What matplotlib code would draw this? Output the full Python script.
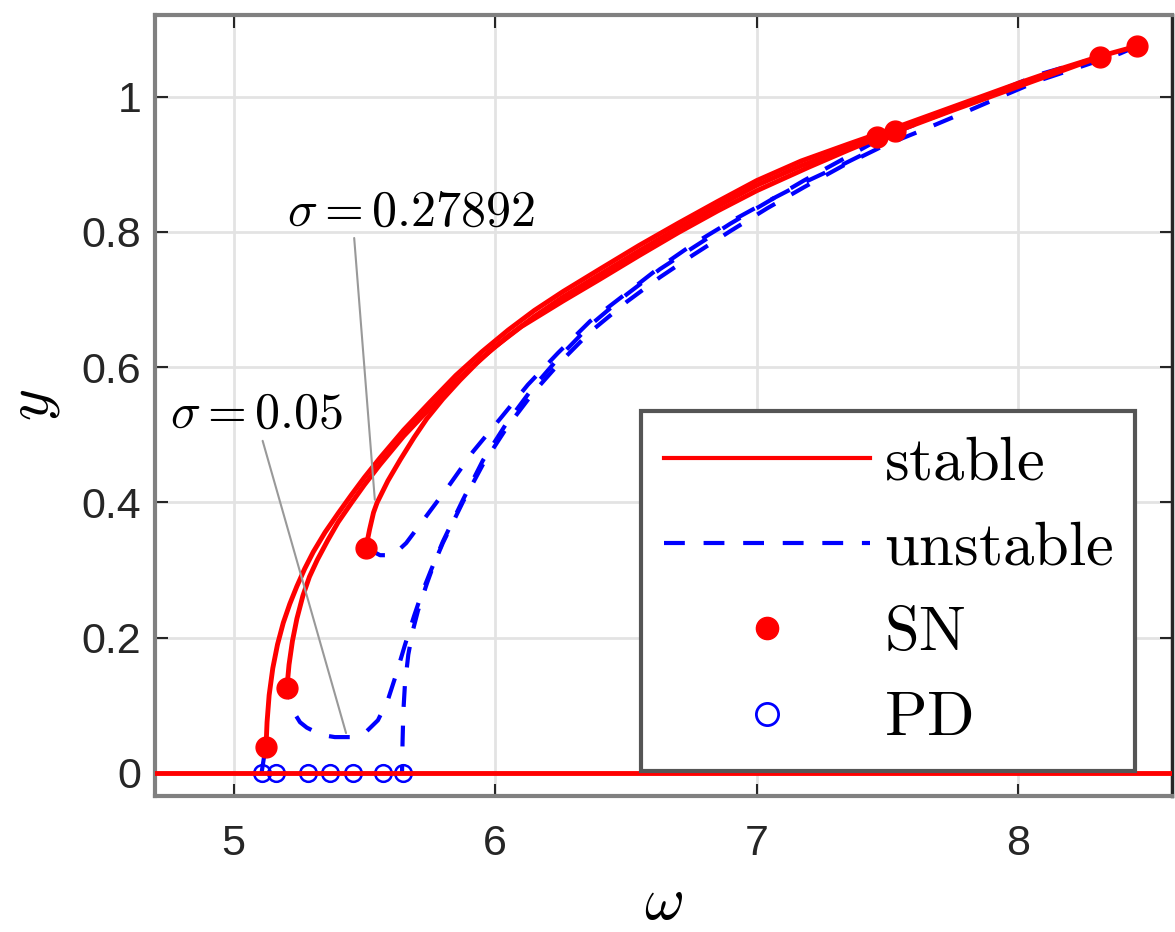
import matplotlib
matplotlib.use("Agg")
import matplotlib.pyplot as plt
from matplotlib.lines import Line2D

plt.rcParams['font.family'] = ['Liberation Sans', 'DejaVu Sans']
plt.rcParams['mathtext.fontset'] = 'cm'

# stable upper branches (omega, y)
st1_w = [5.124, 5.128, 5.136, 5.150, 5.168, 5.190, 5.215, 5.242, 5.272, 5.305, 5.350, 5.400, 5.450, 5.500, 5.560,
         5.650, 5.750, 5.850, 5.950, 6.050, 6.150, 6.260, 6.400, 6.550, 6.700, 6.850, 7.000, 7.170, 7.350, 7.550,
         7.750, 8.000, 8.150, 8.314, 8.455]
st1_y = [0.038, 0.075, 0.115, 0.155, 0.190, 0.222, 0.250, 0.276, 0.302, 0.327, 0.356, 0.384, 0.411, 0.437, 0.466,
         0.507, 0.548, 0.588, 0.623, 0.655, 0.684, 0.712, 0.745, 0.780, 0.813, 0.845, 0.876, 0.905, 0.930, 0.957,
         0.985, 1.020, 1.040, 1.060, 1.075]
st2_w = [5.204, 5.212, 5.225, 5.242, 5.265, 5.290, 5.320, 5.360, 5.400, 5.450, 5.500, 5.560, 5.650, 5.750, 5.850,
         5.950, 6.050, 6.150, 6.260, 6.400, 6.550, 6.700, 6.850, 7.000, 7.170, 7.350, 7.550, 7.750, 8.000, 8.150, 8.314]
st2_y = [0.126, 0.160, 0.195, 0.228, 0.262, 0.290, 0.315, 0.344, 0.371, 0.399, 0.426, 0.456, 0.498, 0.539, 0.579,
         0.614, 0.646, 0.675, 0.704, 0.737, 0.772, 0.806, 0.838, 0.869, 0.898, 0.924, 0.951, 0.980, 1.015, 1.036, 1.059]
st3_w = [5.506, 5.520, 5.535, 5.549, 5.590, 5.637, 5.690, 5.739, 5.800, 5.866, 5.930, 5.992, 6.100, 6.260, 6.400,
         6.550, 6.700, 6.850, 7.000, 7.200, 7.350, 7.530]
st3_y = [0.333, 0.360, 0.385, 0.400, 0.432, 0.463, 0.496, 0.524, 0.553, 0.581, 0.606, 0.628, 0.660, 0.698, 0.730,
         0.765, 0.799, 0.831, 0.861, 0.896, 0.921, 0.950]

# unstable branches
un0_w = [5.107, 5.115, 5.124]
un0_y = [0.0, 0.02, 0.038]
un1_w = [8.455, 8.39, 8.236, 8.08, 7.94, 7.79, 7.636, 7.483, 7.33, 7.18, 7.04, 6.898, 6.757, 6.63, 6.504, 6.363,
         6.248, 6.145, 6.045, 5.953, 5.877, 5.80, 5.765, 5.739, 5.705, 5.685, 5.668, 5.655, 5.649, 5.646, 5.644]
un1_y = [1.075, 1.064, 1.044, 1.024, 1.001, 0.976, 0.951, 0.927, 0.898, 0.866, 0.835, 0.801, 0.766, 0.733, 0.697, 0.652,
         0.607, 0.562, 0.511, 0.456, 0.401, 0.340, 0.308, 0.280, 0.240, 0.210, 0.175, 0.130, 0.090, 0.045, 0.0]
un2_w = [8.314, 8.08, 7.79, 7.483, 7.18, 6.898, 6.757, 6.63, 6.504, 6.363, 6.248, 6.145, 6.045, 5.953, 5.877, 5.80,
         5.755, 5.72, 5.69, 5.655, 5.621, 5.59, 5.552, 5.502, 5.445, 5.387, 5.340, 5.311, 5.280, 5.254, 5.230, 5.204]
un2_y = [1.059, 1.033, 0.987, 0.940, 0.876, 0.812, 0.777, 0.745, 0.708, 0.662, 0.616, 0.570, 0.518, 0.462, 0.404, 0.342,
         0.300, 0.266, 0.232, 0.189, 0.145, 0.108, 0.078, 0.059, 0.053, 0.053, 0.056, 0.061, 0.067, 0.075, 0.090, 0.126]
un3_w = [5.506, 5.56, 5.61, 5.66, 5.72, 5.82, 5.915, 6.026, 6.125, 6.24, 6.363, 6.504, 6.63, 6.757, 6.898, 7.04, 7.18,
         7.33, 7.46, 7.53]
un3_y = [0.333, 0.322, 0.322, 0.340, 0.371, 0.423, 0.475, 0.527, 0.574, 0.621, 0.668, 0.710, 0.748, 0.782, 0.815, 0.845,
         0.873, 0.900, 0.925, 0.950]

# bifurcation points
sn_w = [5.124, 5.204, 5.506, 7.46, 7.53, 8.314, 8.455]
sn_y = [0.038, 0.126, 0.333, 0.94, 0.95, 1.059, 1.075]
pd_w = [5.107, 5.164, 5.285, 5.370, 5.457, 5.572, 5.647]
pd_y = [0, 0, 0, 0, 0, 0, 0]

fig = plt.figure(figsize=(11.75, 9.32), dpi=100)
ax = fig.add_axes([0.132, 0.146, 0.8655, 0.838])

ax.grid(True, color='#e3e3e3', lw=2)
ax.set_axisbelow(True)

dash = (0, (5, 4.5))
for w, y in [(un0_w, un0_y), (un1_w, un1_y), (un2_w, un2_y), (un3_w, un3_y)]:
    ax.plot(w, y, color='blue', lw=3, linestyle=dash, zorder=2)
for w, y in [(st1_w, st1_y), (st2_w, st2_y), (st3_w, st3_y)]:
    ax.plot(w, y, color='red', lw=3.5, zorder=3)

ax.plot(pd_w, pd_y, 'o', ms=12, mfc='none', mec='blue', mew=1.8, zorder=2.5)
ax.axhline(0, color='red', lw=3.5, zorder=3)
ax.plot(sn_w, sn_y, 'o', ms=15, color='red', zorder=4)

ax.annotate(r'$\sigma=0.27892$', xy=(5.54, 0.404), xytext=(5.204, 0.81),
            fontsize=36, ha='left', va='baseline',
            arrowprops=dict(arrowstyle='-', color='#999999', lw=1.5, shrinkA=0, shrinkB=0, relpos=(0.27, 0)))
ax.annotate(r'$\sigma=0.05$', xy=(5.43, 0.059), xytext=(4.757, 0.51),
            fontsize=36, ha='left', va='baseline',
            arrowprops=dict(arrowstyle='-', color='#999999', lw=1.5, shrinkA=0, shrinkB=0, relpos=(0.53, 0)))

ax.set_xlim(4.70, 8.588)
ax.set_ylim(-0.034, 1.121)
ax.set_xticks([5, 6, 7, 8])
ax.set_xticklabels(['5', '6', '7', '8'])
ax.set_yticks([0, 0.2, 0.4, 0.6, 0.8, 1])
ax.set_yticklabels(['0', '0.2', '0.4', '0.6', '0.8', '1'])
ax.tick_params(direction='in', length=9, width=1.5, labelsize=31, top=True, right=True, colors='#262626')
ax.tick_params(axis='x', pad=20)
ax.tick_params(axis='y', pad=10)

for s in ['left', 'bottom', 'top']:
    ax.spines[s].set_color('#808080')
    ax.spines[s].set_linewidth(3)
ax.spines['right'].set_color('#262626')
ax.spines['right'].set_linewidth(2.5)

ax.set_xlabel(r'$\omega$', fontsize=44, labelpad=8)
ax.set_ylabel(r'$y$', fontsize=44, labelpad=14)

handles = [
    Line2D([], [], color='red', lw=3),
    Line2D([], [], color='blue', lw=3, linestyle=dash),
    Line2D([], [], color='red', marker='o', ms=16, linestyle='none'),
    Line2D([], [], color='blue', marker='o', ms=16, mfc='none', mew=2, linestyle='none'),
]
labels = [r'$\mathrm{stable}$', r'$\mathrm{unstable}$', r'$\mathrm{SN}$', r'$\mathrm{PD}$']
leg = ax.legend(handles, labels, loc='lower right', bbox_to_anchor=(0.964, 0.032), fontsize=45,
                handlelength=3.3, handletextpad=0.22, labelspacing=0.42, borderpad=0.36,
                fancybox=False, framealpha=1, borderaxespad=0)
leg.get_frame().set_edgecolor('#555555')
leg.get_frame().set_linewidth(3)

fig.savefig('out.png', dpi=100)
